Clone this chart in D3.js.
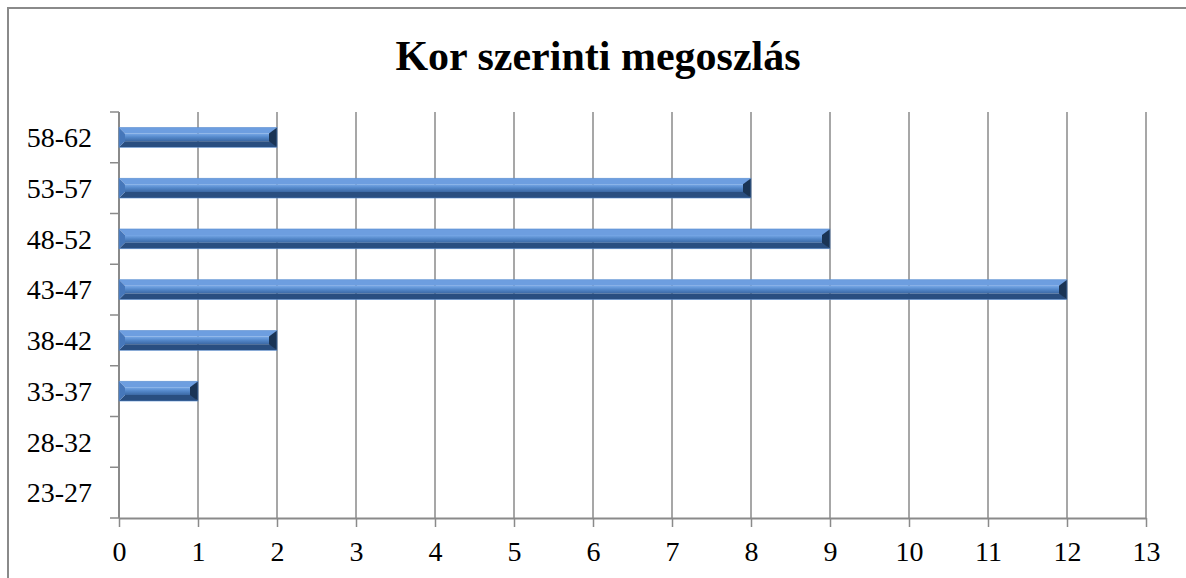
<!DOCTYPE html>
<meta charset="utf-8">
<style>
  body { margin: 0; background: #fff; }
  svg { display: block; }
  text { font-family: "Liberation Serif", "Times New Roman", serif; fill: #000; }
</style>
<body>
<script src="https://cdn.jsdelivr.net/npm/d3@7"></script>
<script>
  'use strict';

  const ageGroups = ["23-27", "28-32", "33-37", "38-42", "43-47", "48-52", "53-57", "58-62"];
  const counts    = [0, 0, 1, 2, 12, 9, 8, 2];
  const xTicks    = d3.range(0, 14);
  const title     = "Kor szerinti megoszlás";

  const W = 1186, H = 578,
        plot = {left: 119, right: 1146, top: 112, bottom: 518},
        grey = "#8a8a8a";

  const svg = d3.select("body").append("svg")
      .attr("width", W).attr("height", H);

  const x = d3.scaleLinear().domain([0, 13]).range([plot.left, plot.right]);
  const band = d3.scaleBand().domain(ageGroups.slice().reverse()).range([plot.top, plot.bottom]);
  const y = band.copy().paddingInner(0.61).paddingOuter(0.305);

  // chart frame: only top and left edges are inside the picture
  svg.append("path")
      .attr("d", `M8,${H + 10}V8H${W + 10}`)
      .attr("fill", "none").attr("stroke", grey).attr("stroke-width", 2);

  svg.append("text")
      .attr("x", 598).attr("y", 70)
      .attr("text-anchor", "middle")
      .style("font-size", "42px").style("font-weight", "bold")
      .text(title);

  // gradient for the flat face of the bars
  const defs = svg.append("defs");
  const gFace = defs.append("linearGradient").attr("id", "face")
      .attr("x1", 0).attr("y1", 0).attr("x2", 0).attr("y2", 1);
  [[0, "#78a9e8"], [0.5, "#5286c8"], [1, "#3b68a4"]]
    .forEach(([o, c]) => gFace.append("stop").attr("offset", o).attr("stop-color", c));

  // vertical gridlines
  svg.append("g").selectAll("line")
    .data(xTicks.filter(d => d > 0))
    .join("line")
      .attr("x1", d => x(d)).attr("x2", d => x(d))
      .attr("y1", plot.top).attr("y2", plot.bottom)
      .attr("stroke", grey).attr("stroke-width", 1.5);

  // x axis
  const xAxis = svg.append("g")
      .attr("transform", `translate(0,${plot.bottom})`)
      .call(d3.axisBottom(x).tickValues(xTicks).tickSize(9).tickSizeOuter(0).tickPadding(14));
  xAxis.attr("font-family", null).attr("font-size", null);
  xAxis.select(".domain").attr("stroke", grey).attr("stroke-width", 2);
  xAxis.selectAll(".tick line").attr("stroke", grey).attr("stroke-width", 1.5);
  xAxis.selectAll("text").style("font-size", "28px").attr("fill", "#000");

  // y axis: ticks at band boundaries, labels centred in bands
  const yAxis = svg.append("g").attr("transform", `translate(${plot.left},0)`);
  yAxis.append("line")
      .attr("y1", plot.top).attr("y2", plot.bottom)
      .attr("stroke", grey).attr("stroke-width", 2);
  const bounds = band.domain().map(d => band(d)).concat([plot.bottom]);
  yAxis.selectAll(".yt").data(bounds).join("line").attr("class", "yt")
      .attr("x1", -9).attr("x2", 0).attr("y1", d => d).attr("y2", d => d)
      .attr("stroke", grey).attr("stroke-width", 1.5);
  yAxis.selectAll("text").data(band.domain()).join("text")
      .attr("x", 92 - plot.left)
      .attr("y", d => band(d) + band.bandwidth() / 2)
      .attr("dy", "0.35em")
      .attr("text-anchor", "end")
      .style("font-size", "28px")
      .text(d => d);

  // bevelled bars: a flat face plus four sloping facets
  const data = ageGroups.map((g, i) => ({g, v: counts[i]})).filter(d => d.v > 0);
  const b = 6;
  const facets = [
    {fill: "#6d9ee0", pts: (x0, y0, x1, y1) => [[x0, y0], [x1, y0], [x1 - b, y0 + b], [x0 + b, y0 + b]]},
    {fill: "#294e80", pts: (x0, y0, x1, y1) => [[x0, y1], [x1, y1], [x1 - b, y1 - b], [x0 + b, y1 - b]]},
    {fill: "#4677ba", pts: (x0, y0, x1, y1) => [[x0, y0], [x0 + b, y0 + b], [x0 + b, y1 - b], [x0, y1]]},
    {fill: "#1a3455", pts: (x0, y0, x1, y1) => [[x1, y0], [x1 - b - 2, y0 + b], [x1 - b - 2, y1 - b], [x1, y1]]}
  ];
  const bars = svg.append("g").selectAll("g").data(data).join("g");
  bars.append("rect")
      .attr("x", x(0) + b).attr("y", d => y(d.g) + b)
      .attr("width", d => x(d.v) - x(0) - 2 * b).attr("height", y.bandwidth() - 2 * b)
      .attr("fill", "url(#face)");
  facets.forEach(f => {
    bars.append("path")
        .attr("fill", f.fill)
        .attr("d", d => {
          const p = f.pts(x(0), y(d.g), x(d.v), y(d.g) + y.bandwidth());
          return "M" + p.map(q => q.join(",")).join("L") + "Z";
        });
  });
  bars.append("rect")
      .attr("x", x(0)).attr("y", d => y(d.g))
      .attr("width", d => x(d.v) - x(0)).attr("height", y.bandwidth())
      .attr("fill", "none").attr("stroke", "#5b8ed0").attr("stroke-width", 0.6);
</script>
</body>
